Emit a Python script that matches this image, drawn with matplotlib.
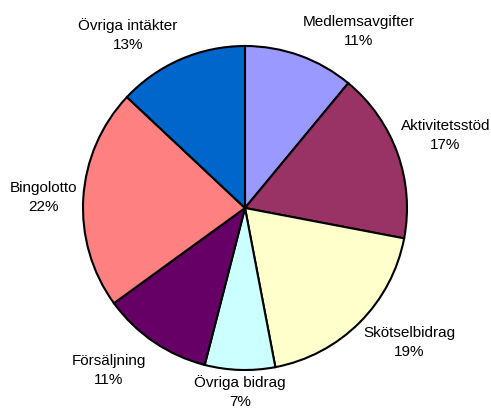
import numpy as np
import matplotlib.pyplot as plt

plt.rcParams['font.family'] = ['Liberation Sans', 'DejaVu Sans']

# andelar i procent, medurs från kl 12
kategorier = ['Medlemsavgifter', 'Aktivitetsstöd', 'Skötselbidrag', 'Övriga bidrag',
              'Försäljning', 'Bingolotto', 'Övriga intäkter']
andelar = [11, 17, 19, 7, 11, 22, 13]
farger = ['#9999FF', '#993366', '#FFFFCC', '#CCFFFF', '#660066', '#FF8080', '#0066CC']

# etikettavstånd från centrum (i radier), som Excel lägger dem
avstand = [1.05, 1.02, 1.03, 1.03, 1.09, 1.04, 1.05]

fig = plt.figure(figsize=(4.91, 4.12), dpi=100)
W, H = 491, 412
cx, cy, r = 245, 208, 162
ax = fig.add_axes([(cx - r) / W, (H - cy - r) / H, 2 * r / W, 2 * r / H])

wedges, _ = ax.pie(andelar, colors=farger, startangle=90, counterclock=False,
                   wedgeprops=dict(edgecolor='black', linewidth=1.5))

for w, namn, v, d in zip(wedges, kategorier, andelar, avstand):
    vinkel = np.deg2rad((w.theta1 + w.theta2) / 2)
    c, s = np.cos(vinkel), np.sin(vinkel)
    ha = 'left' if c > 0.1 else ('right' if c < -0.1 else 'center')
    va = 'bottom' if s > 0.1 else ('top' if s < -0.1 else 'center')
    ax.text(d * c, d * s, f'{namn}\n{v}%', ha=ha, va=va, multialignment='center',
            fontsize=11, linespacing=1.45)

ax.set_xlim(-1, 1)
ax.set_ylim(-1, 1)
ax.set_aspect('equal')
ax.axis('off')

fig.savefig('out.png', dpi=100)
